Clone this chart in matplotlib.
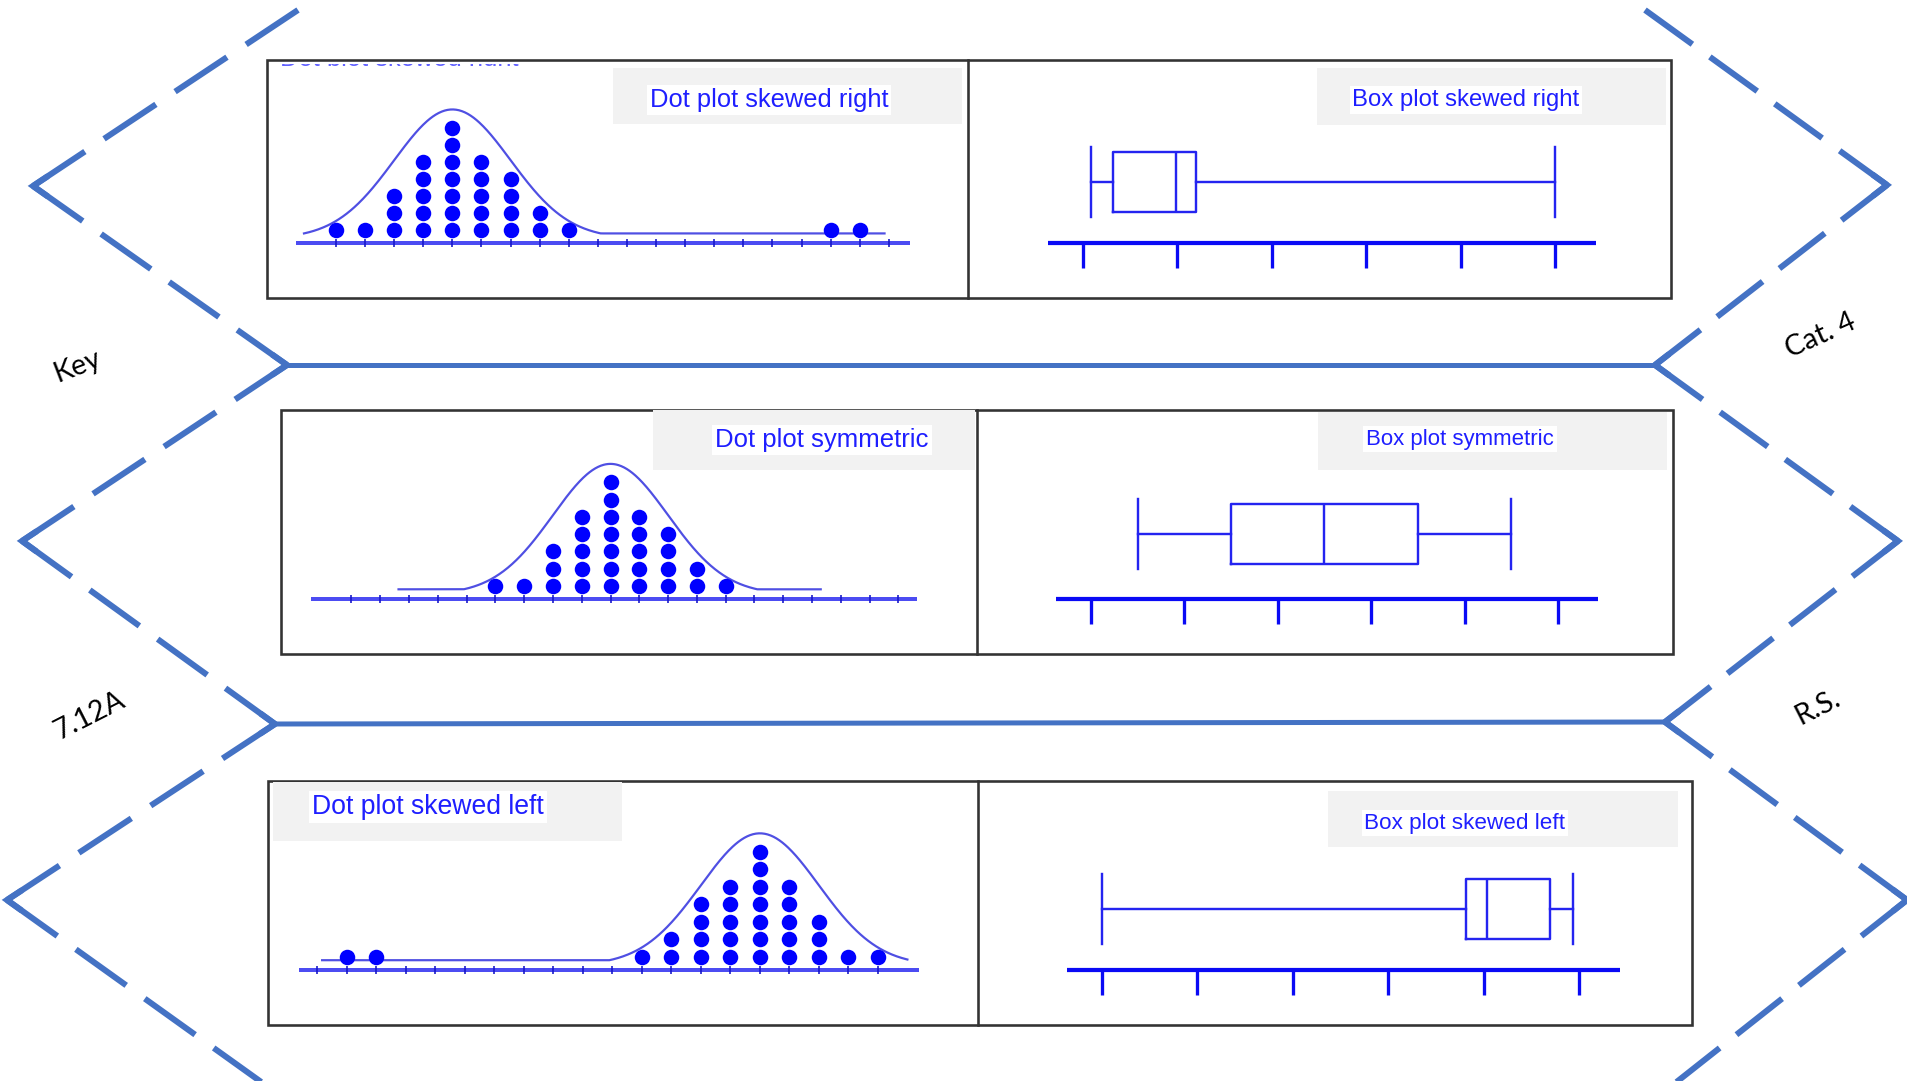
import numpy as np
import matplotlib
matplotlib.use("Agg")
import matplotlib.pyplot as plt
from matplotlib.patches import Rectangle
from matplotlib.transforms import Bbox

# ---- data ----------------------------------------------------------------
dot_ticks = list(range(1, 21))
dots_skew_right = [1, 1, 3, 5, 7, 5, 4, 2, 1, 0, 0, 0, 0, 0, 0, 0, 0, 1, 1, 0]
dots_symmetric = [0, 0, 0, 0, 0, 1, 1, 3, 5, 7, 5, 4, 2, 1, 0, 0, 0, 0, 0, 0]
dots_skew_left = [0, 1, 1, 0, 0, 0, 0, 0, 0, 0, 0, 1, 2, 4, 5, 7, 5, 3, 1, 1]

curve_peaks = [5, 10, 16]
curve_spans = [(-0.1, 19.85), (2.64, 17.3), (1.16, 21.0)]

box_ticks = [0, 1, 2, 3, 4, 5]
# min, q1, median, q3, max
box_skew_right = [0.08, 0.32, 0.98, 1.20, 5.00]
box_symmetric = [0.50, 1.50, 2.50, 3.50, 4.50]
box_skew_left = [0.00, 3.82, 4.04, 4.70, 4.94]

dot_titles = ["Dot plot skewed right", "Dot plot symmetric", "Dot plot skewed left"]
box_titles = ["Box plot skewed right", "Box plot symmetric", "Box plot skewed left"]
left_tabs = ["Key", "7.12A"]
right_tabs = ["Cat. 4", "R.S."]

# ---- layout (pixels of the 1908x1081 canvas) ------------------------------
W, H = 1908, 1081
PANELS = [(267, 60, 968, 1671, 298), (281, 410, 977, 1673, 654),
          (268, 781, 978, 1692, 1025)]           # x0, y0, divider, x1, y1
DOT_GEOM = [(336, 29.1, 243, 17.1), (351.3, 28.8, 599, 17.3),
            (317.4, 29.5, 970, 17.5)]           # tick1 x, px/tick, axis y, px/dot
DOT_LINE = [(-0.37, 20.72), (-0.39, 20.63), (0.39, 21.4)]
BOX_GEOM = [(1083, 94.4, 243), (1091, 93.4, 599), (1102, 95.4, 970)]
BOX_POS = [61, 65, 61]
DOT_GREY = [(613, 68, 962, 124), (653, 410, 975, 470), (273, 782, 622, 841)]
BOX_GREY = [(1317, 68, 1666, 125), (1318, 412, 1667, 470), (1328, 791, 1678, 847)]
DOT_TITLE_AT = [(769, 100, 18.4), (822, 440, 18.5), (428, 807, 19.2)]
BOX_TITLE_AT = [(1466, 100, 17.2), (1460, 439, 16.0), (1465, 823, 16.2)]

LEFT_ZIG = [(298, 10), (33, 186), (287, 365), (22, 541), (275, 724), (7, 900), (264, 1084)]
RIGHT_ZIG = [(1645, 10), (1887, 185), (1655, 365), (1898, 541), (1665, 722), (1907, 900), (1674, 1084)]
FOLDS = [((287, 365), (1655, 365)), ((275, 724), (1665, 722))]
LEFT_TAB_AT = [(77, 366, 21), (90, 716, 27)]
RIGHT_TAB_AT = [(1821, 336, 24), (1818, 707, 27)]

FOLD_BLUE = "#4472C4"
DOT_BLUE = "#0000FF"
CURVE_BLUE = "#4F4FE3"
TEXT_BLUE = "#1F1FFF"
PT = 0.72  # points per pixel at dpi 100

plt.rcParams["lines.scale_dashes"] = False

fig = plt.figure(figsize=(W / 100, H / 100), dpi=100)
base = fig.add_axes([0, 0, 1, 1])
base.set_xlim(0, W)
base.set_ylim(H, 0)
base.axis("off")


def px_axes(x0, y0, x1, y1):
    ax = fig.add_axes([x0 / W, 1 - y1 / H, (x1 - x0) / W, (y1 - y0) / H])
    ax.axis("off")
    ax.patch.set_alpha(0)
    return ax


def zigzag(points, on=65, off=24, lw=6):
    pts = np.asarray(points, float)
    for a, b in zip(pts[:-1], pts[1:]):
        length = np.hypot(*(b - a))
        n = max(1, round((length - on) / (on + off)))
        s = length / (n * (on + off) + on)
        base.plot([a[0], b[0]], [a[1], b[1]], color=FOLD_BLUE, lw=lw * PT,
                  dashes=(on * s * PT, off * s * PT), dash_capstyle="butt")
    # solid corners so the bends stay sharp
    for i in range(1, len(pts) - 1):
        p = pts[i]
        u = (pts[i - 1] - p) / np.linalg.norm(pts[i - 1] - p)
        v = (pts[i + 1] - p) / np.linalg.norm(pts[i + 1] - p)
        c = np.array([p + 18 * u, p, p + 18 * v])
        base.plot(c[:, 0], c[:, 1], color=FOLD_BLUE, lw=lw * PT,
                  solid_joinstyle="miter", solid_capstyle="butt")


def bell(x, peak, sigma=2.0, half=5.1):
    g = np.exp(-0.5 * ((x - peak) / sigma) ** 2)
    gw = np.exp(-0.5 * (half / sigma) ** 2)
    return np.where(np.abs(x - peak) < half, (g - gw) / (1 - gw), 0.0)


def draw_dot_plot(row, counts, peak, span):
    x0, y0, x1, _, y1 = PANELS[row]
    t1, dx, ay, dy = DOT_GEOM[row]
    ax = px_axes(x0, y0, x1, y1)
    ax.set_xlim(1 + (x0 - t1) / dx, 1 + (x1 - t1) / dx)
    ax.set_ylim((ay - y1) / dy, (ay - y0) / dy)

    lo, hi = DOT_LINE[row]
    ax.plot([lo, hi], [0, 0], color="#4C4CF2", lw=4 * PT, solid_capstyle="butt")
    ax.vlines(dot_ticks, -0.24, 0.24, color="#1414C8", lw=1.6 * PT)

    xs = np.linspace(span[0], span[1], 600)
    ax.plot(xs, 0.56 + 7.25 * bell(xs, peak), color=CURVE_BLUE, lw=2.2 * PT)

    for t, c in zip(dot_ticks, counts):
        if c:
            ax.plot(np.full(c, t), 0.75 + np.arange(c), "o", color=DOT_BLUE,
                    ms=15.5 * PT, mec="none")


def draw_box_plot(row, stats):
    _, y0, x0, x1, y1 = PANELS[row]
    t0, dx, ay = BOX_GEOM[row]
    ax = px_axes(x0, y0, x1, y1)
    ax.plot([-0.37, 5.43], [0, 0], color="#0A0AF5", lw=4.2 * PT, solid_capstyle="butt")
    ax.vlines(box_ticks, -25, 0, color="#0A0AF5", lw=3.3 * PT)
    lo, q1, med, q3, hi = stats
    line = dict(color="#2424F0", lw=2.4 * PT)
    ax.bxp([dict(whislo=lo, q1=q1, med=med, q3=q3, whishi=hi, fliers=[])],
           positions=[BOX_POS[row]], widths=60, capwidths=70,
           orientation="horizontal", showfliers=False, manage_ticks=False,
           boxprops=line, whiskerprops=line, capprops=line, medianprops=line)
    ax.set_xlim((x0 - t0) / dx, (x1 - t0) / dx)
    ax.set_ylim(ay - y1, ay - y0)


def main():
    # fold guides
    zigzag(LEFT_ZIG)
    zigzag(RIGHT_ZIG)
    for (xa, ya), (xb, yb) in FOLDS:
        base.plot([xa, xb], [ya, yb], color=FOLD_BLUE, lw=5 * PT)

    for label, (x, y, rot) in zip(left_tabs + right_tabs, LEFT_TAB_AT + RIGHT_TAB_AT):
        base.text(x, y, label, rotation=rot, rotation_mode="anchor", ha="center",
                  va="center", fontsize=20.5, family="Lato", color="black")

    # panels
    for x0, y0, xd, x1, y1 in PANELS:
        base.add_patch(Rectangle((x0, y0), x1 - x0, y1 - y0, fc="white",
                                 ec="#333333", lw=2.6 * PT))
        base.plot([xd, xd], [y0, y1], color="#333333", lw=2.6 * PT)

    for (gx0, gy0, gx1, gy1) in DOT_GREY + BOX_GREY:
        base.add_patch(Rectangle((gx0, gy0), gx1 - gx0, gy1 - gy0, fc="#F2F2F2", ec="none"))

    for title, (x, y, fs) in zip(dot_titles + box_titles, DOT_TITLE_AT + BOX_TITLE_AT):
        base.text(x, y, title, ha="center", va="center", fontsize=fs,
                  family="Liberation Sans", color=TEXT_BLUE,
                  bbox=dict(boxstyle="square,pad=0.12", fc="white", ec="none"))

    # leftover bottom edge of a text line peeking under the first panel's top border
    ghost = base.text(280, 66, dot_titles[0], ha="left", va="baseline",
                      fontsize=18.4, family="Liberation Sans", color=TEXT_BLUE,
                      alpha=0.7)
    (cx0, cy0), (cx1, cy1) = base.transData.transform([(270, 63.5), (570, 66.0)])
    ghost.set_clip_box(Bbox.from_extents(min(cx0, cx1), min(cy0, cy1),
                                         max(cx0, cx1), max(cy0, cy1)))
    ghost.set_clip_on(True)

    for row, counts in enumerate([dots_skew_right, dots_symmetric, dots_skew_left]):
        draw_dot_plot(row, counts, curve_peaks[row], curve_spans[row])
    for row, stats in enumerate([box_skew_right, box_symmetric, box_skew_left]):
        draw_box_plot(row, stats)

    fig.savefig("out.png", dpi=100)
    plt.close(fig)


if __name__ == "__main__":
    main()
